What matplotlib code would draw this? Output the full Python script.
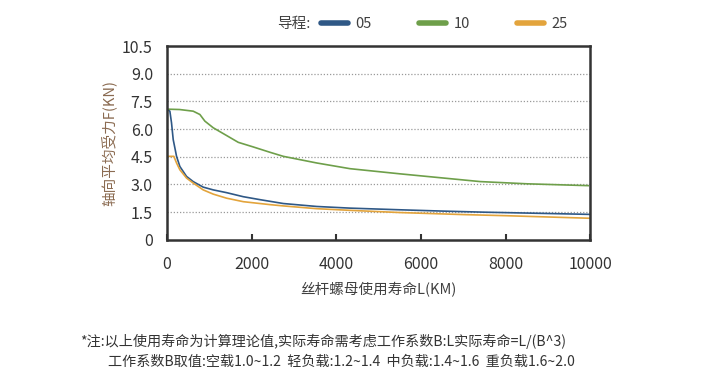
"""Axial average load vs. screw nut service life, by lead."""

import matplotlib

matplotlib.use("Agg")
import matplotlib.pyplot as plt
from matplotlib.lines import Line2D

plt.rcParams["font.family"] = ["Noto Sans CJK SC", "DejaVu Sans"]

# service life (km) and axial average load (kN)
lead_labels = ["05", "10", "25"]
life_05 = [0, 71, 110, 150, 229, 307, 465, 622, 858, 1095, 1410, 1805, 2199,
           2750, 3539, 4326, 5508, 6500, 7500, 8975, 10000]
load_05 = [7.08, 6.97, 6.34, 5.43, 4.52, 3.97, 3.43, 3.15, 2.85, 2.70, 2.55, 2.33, 2.17,
           1.96, 1.80, 1.71, 1.62, 1.55, 1.49, 1.42, 1.37]
life_10 = [0, 300, 622, 780, 898, 1095, 1410, 1686, 2040, 2435, 2750, 3539, 4326,
           5508, 6500, 7400, 8500, 9950]
load_10 = [7.08, 7.06, 6.97, 6.79, 6.43, 6.07, 5.65, 5.28, 5.03, 4.74, 4.52, 4.16, 3.85,
           3.57, 3.35, 3.15, 3.03, 2.93]
life_25 = [0, 165, 229, 307, 465, 622, 858, 1095, 1410, 1805, 2435, 2750, 3539,
           4326, 5508, 7000, 8000, 10000]
load_25 = [4.52, 4.52, 4.16, 3.79, 3.34, 3.07, 2.70, 2.47, 2.25, 2.06, 1.90, 1.83, 1.68,
           1.59, 1.47, 1.36, 1.30, 1.16]

y_ticks = [0, 1.5, 3.0, 4.5, 6.0, 7.5, 9.0, 10.5]
y_tick_labels = ["0", "1.5", "3.0", "4.5", "6.0", "7.5", "9.0", "10.5"]
x_ticks = [0, 2000, 4000, 6000, 8000, 10000]

colors = ["#2F5886", "#6E9F4A", "#E3A43C"]


def main() -> None:
    fig = plt.figure(figsize=(7.07, 3.78), dpi=100)
    ax = fig.add_axes([0.236, 0.366, 0.599, 0.512])

    series = [(life_05, load_05), (life_10, load_10), (life_25, load_25)]
    for (x, y), color in zip(series, colors):
        ax.plot(x, y, color=color, linewidth=1.2)

    ax.set_xlim(0, 10000)
    ax.set_ylim(0, 10.5)
    ax.set_yticks(y_ticks)
    ax.set_yticklabels(y_tick_labels)
    ax.set_xticks(x_ticks)
    ax.tick_params(axis="y", length=0, pad=10, labelsize=11.5, colors="#333333")
    ax.tick_params(axis="x", direction="in", length=4, width=1.5, pad=12,
                   labelsize=11.5, colors="#333333")
    for spine in ax.spines.values():
        spine.set_linewidth(1.8)
        spine.set_color("#333333")

    for y in y_ticks[1:-1]:
        ax.axhline(y, color="#999999", linestyle=(0, (1, 1.5)), linewidth=0.9, zorder=0)

    ax.set_ylabel("轴向平均受力F(KN)", fontsize=10.5, color="#8A6A50", labelpad=4)
    ax.set_xlabel("丝杆螺母使用寿命L(KM)", fontsize=10.5, color="#404040", labelpad=6)

    # legend across the top
    fig.text(0.392, 0.937, "导程:", fontsize=10.5, color="#404040", va="center")
    handles = [
        Line2D([], [], color=c, linewidth=4, solid_capstyle="round") for c in colors
    ]
    fig.legend(
        handles,
        lead_labels,
        loc="center left",
        bbox_to_anchor=(0.435, 0.937),
        ncol=3,
        frameon=False,
        fontsize=10.5,
        handlelength=1.9,
        handletextpad=0.5,
        columnspacing=3.2,
        labelcolor="#404040",
    )

    fig.text(0.113, 0.098, "*注:以上使用寿命为计算理论值,实际寿命需考虑工作系数B:L实际寿命=L/(B^3)",
             fontsize=10.15, color="#333333", va="center")
    fig.text(0.153, 0.042, "工作系数B取值:空载1.0~1.2  轻负载:1.2~1.4  中负载:1.4~1.6  重负载1.6~2.0",
             fontsize=10.15, color="#333333", va="center")

    fig.savefig("out.png", dpi=100)
    plt.close(fig)


if __name__ == "__main__":
    main()
